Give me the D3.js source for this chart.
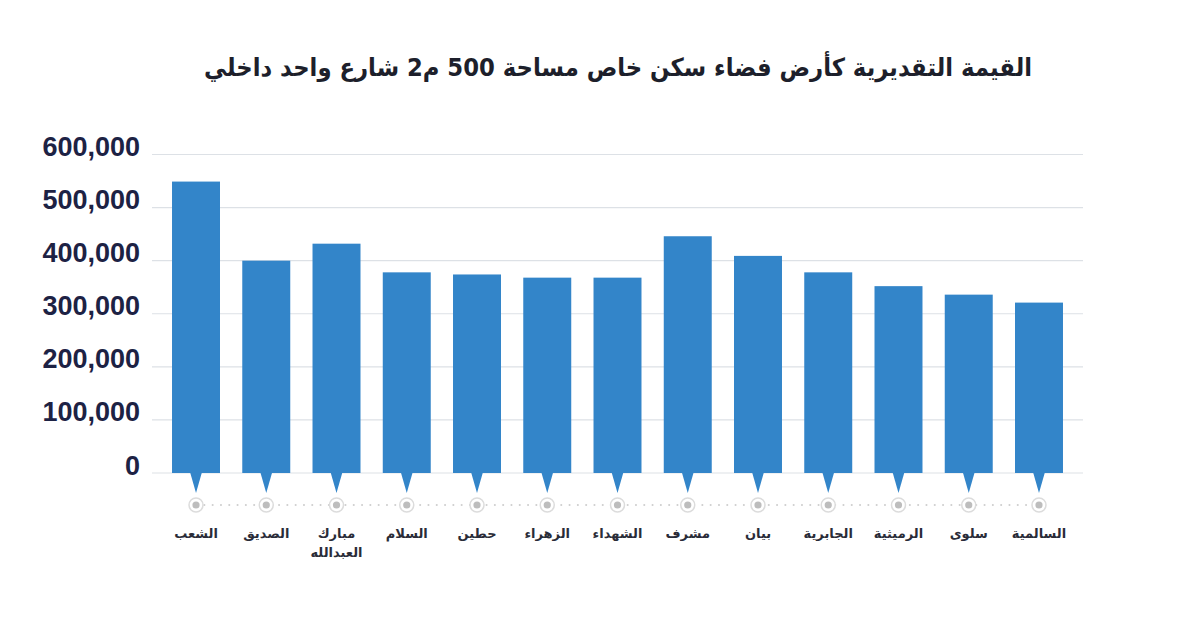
<!DOCTYPE html>
<html>
<head>
<meta charset="utf-8">
<script src="https://cdn.jsdelivr.net/npm/d3@7/dist/d3.min.js"></script>
<style>
  body { margin: 0; background: #fff; }
  svg { display: block; }
</style>
</head>
<body>
<svg id="chart" width="1200" height="633"></svg>
<script>
const titleText = "القيمة التقديرية كأرض فضاء سكن خاص مساحة 500 م2 شارع واحد داخلي";

const districts = [
  ["الشعب"], ["الصديق"], ["مبارك", "العبدالله"], ["السلام"], ["حطين"], ["الزهراء"],
  ["الشهداء"], ["مشرف"], ["بيان"], ["الجابرية"], ["الرميثية"], ["سلوى"], ["السالمية"]
];
const values = [549000, 400000, 432000, 378000, 374000, 368000, 368000, 446000, 409000, 378000, 352000, 336000, 321000];
const yTicks = [0, 100000, 200000, 300000, 400000, 500000, 600000];

const svg = d3.select('#chart');
const plotLeft = 152, plotRight = 1083, plotTop = 154.5, plotBottom = 473;

const x = d3.scaleBand()
  .domain(d3.range(values.length))
  .range([plotLeft, plotRight])
  .paddingInner(0.317)
  .paddingOuter(0.285);

const y = d3.scaleLinear()
  .domain([0, 600000])
  .range([plotBottom, plotTop]);

const fmt = d3.format(',');
const barColor = '#3385c9';

// title
svg.append('text')
  .attr('x', 618)
  .attr('y', 76)
  .attr('text-anchor', 'middle')
  .attr('textLength', 828)
  .attr('lengthAdjust', 'spacingAndGlyphs')
  .style('font-family', '"DejaVu Sans", sans-serif')
  .style('font-weight', 'bold')
  .style('font-size', '25px')
  .attr('fill', '#1d1f2b')
  .text(titleText);

// grid + y labels
const yAxis = svg.append('g');
yAxis.selectAll('line')
  .data(yTicks)
  .join('line')
  .attr('x1', plotLeft).attr('x2', plotRight)
  .attr('y1', d => y(d)).attr('y2', d => y(d))
  .attr('stroke', '#dde1e6')
  .attr('stroke-width', 1.2);

yAxis.selectAll('text')
  .data(yTicks)
  .join('text')
  .attr('x', 140)
  .attr('y', d => y(d) + 1.5)
  .attr('text-anchor', 'end')
  .style('font-family', '"Liberation Sans", Arial, sans-serif')
  .style('font-weight', 'bold')
  .style('font-size', '27px')
  .attr('fill', '#1d2244')
  .text(d => fmt(d));

// bars
svg.append('g').selectAll('rect')
  .data(values)
  .join('rect')
  .attr('x', (d, i) => x(i))
  .attr('y', d => y(d))
  .attr('width', x.bandwidth())
  .attr('height', d => y(0) - y(d))
  .attr('fill', barColor);

// pointer under each bar
const cx = i => x(i) + x.bandwidth() / 2;
svg.append('g').selectAll('path')
  .data(values)
  .join('path')
  .attr('d', (d, i) => `M${cx(i) - 6},${y(0) - 1}L${cx(i) + 6},${y(0) - 1}L${cx(i)},${y(0) + 20}Z`)
  .attr('fill', barColor);

// dotted timeline with markers
const lineY = 505;
svg.append('line')
  .attr('x1', cx(0)).attr('x2', cx(values.length - 1))
  .attr('y1', lineY).attr('y2', lineY)
  .attr('stroke', '#cfcfcf')
  .attr('stroke-width', 2)
  .attr('stroke-linecap', 'round')
  .attr('stroke-dasharray', '0.1 8.2');

const marks = svg.append('g').selectAll('g')
  .data(values)
  .join('g')
  .attr('transform', (d, i) => `translate(${cx(i)},${lineY})`);
marks.append('circle').attr('r', 7).attr('fill', '#fff').attr('stroke', '#dcdcdc').attr('stroke-width', 1.5);
marks.append('circle').attr('r', 3.6).attr('fill', '#bdbdbd');

// district labels
svg.append('g').selectAll('text')
  .data(districts)
  .join('text')
  .attr('x', (d, i) => cx(i))
  .attr('y', 538)
  .attr('text-anchor', 'middle')
  .style('font-family', '"DejaVu Sans", sans-serif')
  .style('font-weight', 'bold')
  .style('font-size', '13px')
  .attr('fill', '#2a2c38')
  .selectAll('tspan')
  .data(d => d)
  .join('tspan')
  .attr('x', function () { return this.parentNode.getAttribute('x'); })
  .attr('dy', (d, j) => j === 0 ? 0 : 19)
  .text(d => d);
</script>
</body>
</html>
